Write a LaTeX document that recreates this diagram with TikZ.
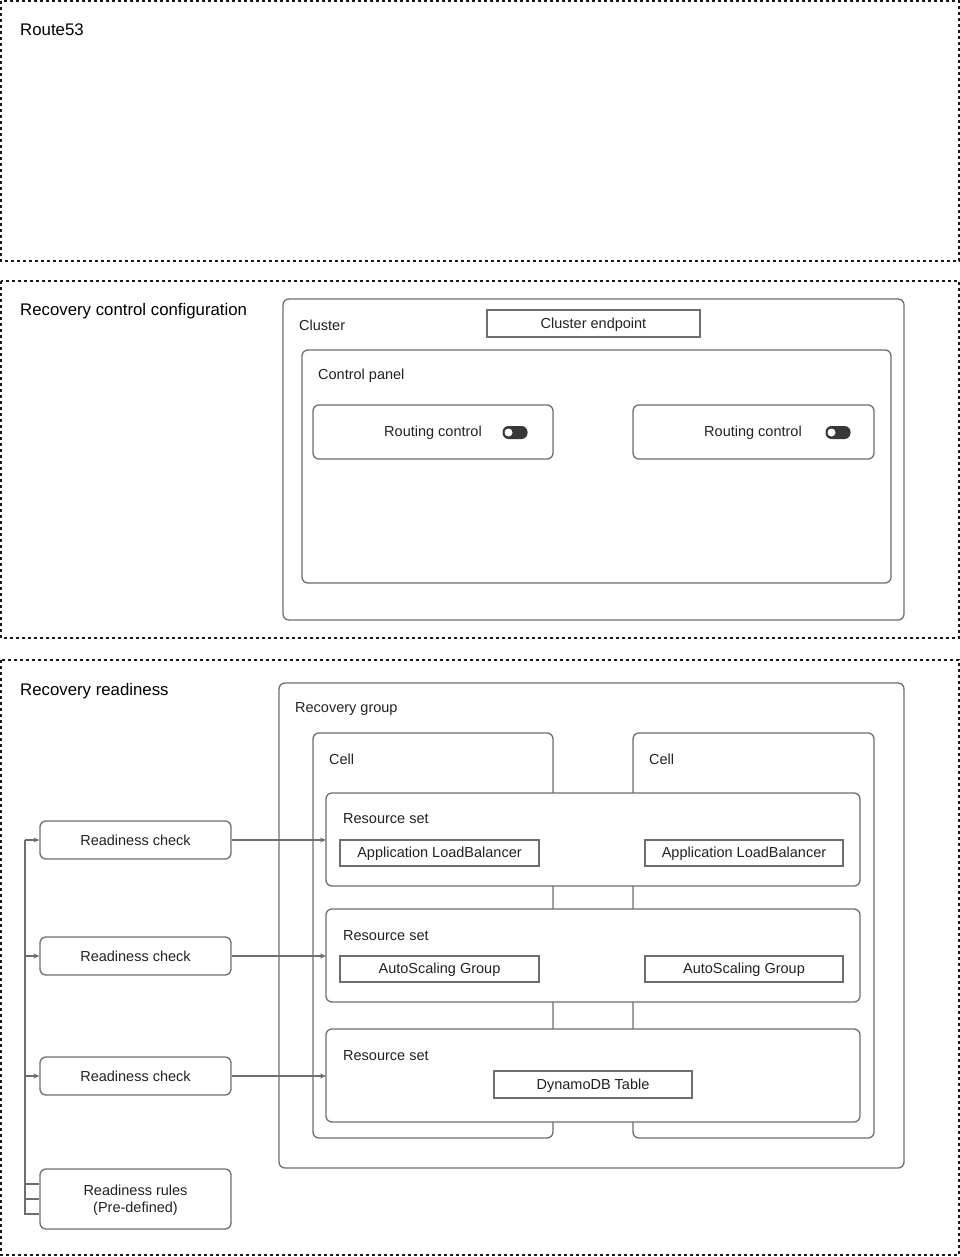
\documentclass[tikz,border=0pt]{standalone}
\usepackage{fontspec}
\setmainfont{Liberation Sans}
\usetikzlibrary{arrows.meta}
\definecolor{ln}{HTML}{6E6E6E}
\definecolor{tx}{HTML}{222222}
\tikzset{
  zone/.style={draw=black!90, line width=1.4pt, dash pattern=on 3pt off 3pt},
  rbox/.style={draw=ln, line width=1.3pt, rounded corners=6pt, fill=white},
  sbox/.style={draw=ln, line width=1.3pt, fill=white},
  title/.style={anchor=west, inner sep=0pt, text=black, font=\fontsize{16.8}{20}\selectfont, yshift=-1pt},
  lbl/.style={anchor=west, inner sep=0pt, text=tx, font=\fontsize{14.5}{17}\selectfont, yshift=-1pt},
  ctr/.style={inner sep=0pt, text=tx, font=\fontsize{14.5}{17}\selectfont, align=center},
  ctrs/.style={ctr, yshift=-1pt},
  conn/.style={draw=ln, line width=1.2pt},
  arr/.style={conn, -{Stealth[length=6pt,width=5pt]}},
}
\begin{document}
\begin{tikzpicture}[x=1pt,y=-1pt]
\useasboundingbox (0,0) rectangle (960,1257);
% zones
\draw[zone] (1,1) rectangle (959,261);
\node[title] (t1) at (20,29) {Route53};
\draw[zone] (1,281) rectangle (959,638);
\node[title] (t2) at (20,310) {Recovery control configuration};
\draw[zone] (1,660) rectangle (959,1255);
\node[title] (t3) at (20,690) {Recovery readiness};
% cluster
\draw[rbox] (283,299) rectangle (904,620);
\node[lbl] (cl) at (299,324) {Cluster};
\draw[sbox] (487,310) rectangle (700,337);
\node[ctrs] (ce) at (593.5,323.5) {Cluster endpoint};
\draw[rbox] (302,350) rectangle (891,583);
\node[lbl] (cp) at (318,375) {Control panel};
\draw[rbox] (313,405) rectangle (553,459);
\node[ctrs] (rc1) at (433,432) {Routing control};
\draw[rbox] (633,405) rectangle (874,459);
\node[ctrs] (rc2) at (753,432) {Routing control};
% toggles
\foreach \cx in {515,838}{
  \fill[black!78, rounded corners=6pt] (\cx-12.5,426) rectangle (\cx+12.5,439);
  \fill[white] (\cx-6.5,432.5) circle (4pt);
}
% recovery group
\draw[rbox] (279,683) rectangle (904,1168);
\node[lbl] (rg) at (295,708) {Recovery group};
\draw[rbox] (313,733) rectangle (553,1138);
\node[lbl] (c1) at (329,758) {Cell};
\draw[rbox] (633,733) rectangle (874,1138);
\node[lbl] (c2) at (649,758) {Cell};
% resource sets
\draw[rbox] (326,793) rectangle (860,886);
\coordinate (rs1) at (326,840);
\node[lbl] (rsl1) at (343,818) {Resource set};
\draw[sbox] (340,840) rectangle (539,866);
\node[ctrs] (alb1) at (439.5,853) {Application LoadBalancer};
\draw[sbox] (645,840) rectangle (843,866);
\node[ctrs] (alb2) at (744,853) {Application LoadBalancer};
\draw[rbox] (326,909) rectangle (860,1002);
\coordinate (rs2) at (326,956);
\node[lbl] (rsl2) at (343,935) {Resource set};
\draw[sbox] (340,956) rectangle (539,982);
\node[ctrs] (asg1) at (439.5,969) {AutoScaling Group};
\draw[sbox] (645,956) rectangle (843,982);
\node[ctrs] (asg2) at (744,969) {AutoScaling Group};
\draw[rbox] (326,1029) rectangle (860,1122);
\coordinate (rs3) at (326,1076);
\node[lbl] (rsl3) at (343,1055) {Resource set};
\draw[sbox] (494,1071) rectangle (692,1098);
\node[ctrs] (ddb) at (593,1084.5) {DynamoDB Table};
% readiness checks
\node[rbox, ctr, minimum width=191pt, minimum height=38pt] (ch1) at (135.5,840) {Readiness check};
\node[rbox, ctr, minimum width=191pt, minimum height=38pt] (ch2) at (135.5,956) {Readiness check};
\node[rbox, ctr, minimum width=191pt, minimum height=38pt] (ch3) at (135.5,1076) {Readiness check};
\node[rbox, minimum width=191pt, minimum height=60pt] (rr) at (135.5,1199) {};
\node[ctrs] (rrt) at (rr.center) {Readiness rules\\(Pre-defined)};
% connectors
\draw[arr] (ch1.east) -- (rs1);
\draw[arr] (ch2.east) -- (rs2);
\draw[arr] (ch3.east) -- (rs3);
\coordinate (b0) at (25,840);
\coordinate (b1) at (25,1214);
\draw[conn] (b0) -- (b1) -- (b1 -| rr.west);
\draw[conn] (25,1184) -- (25,1184 -| rr.west);
\draw[conn] (25,1199) -- (rr.west);
\draw[arr] (b0) -- (ch1.west);
\draw[arr] (25,956) -- (ch2.west);
\draw[arr] (25,1076) -- (ch3.west);
\end{tikzpicture}
\end{document}
